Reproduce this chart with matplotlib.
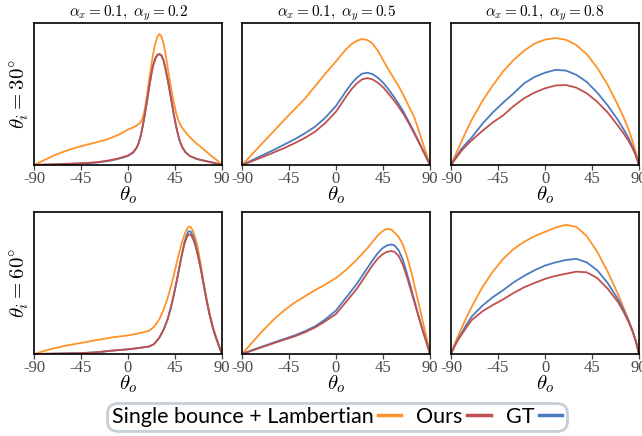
import matplotlib
matplotlib.use("Agg")
import matplotlib.pyplot as plt
from matplotlib.lines import Line2D

plt.rcParams['mathtext.fontset'] = 'cm'

# ---------------- data (normalised heights) ----------------
TITLES = [r"$\alpha_x = 0.1,\ \alpha_y = 0.2$",
          r"$\alpha_x = 0.1,\ \alpha_y = 0.5$",
          r"$\alpha_x = 0.1,\ \alpha_y = 0.8$"]
ROW_LABELS = [r"$\theta_i = 30^{\circ}$", r"$\theta_i = 60^{\circ}$"]
XTICKS = [-90, -45, 0, 45, 90]
XTICK_LABELS = ["-90", "-45", "0", "45", "90"]
SERIES_NAMES = ["Single bounce + Lambertian", "Ours", "GT"]

# panel (0,0): theta_i = 30, alpha_y = 0.2
p00_x = [-90, -80, -70, -60, -50, -40, -30, -20, -15, -10, -5, 0, 5, 8, 10, 12, 14, 16, 18, 20, 22, 24, 26, 28, 30,
         32, 34, 36, 38, 40, 42, 44, 46, 48, 50, 52, 55, 59, 65, 70, 78, 85, 90]
p00_lamb = [0, 0.035, 0.07, 0.098, 0.122, 0.142, 0.16, 0.18, 0.195, 0.21, 0.228, 0.25, 0.265, 0.277, 0.287, 0.30, 0.33, 0.39, 0.48, 0.59, 0.69, 0.78, 0.85, 0.90, 0.923,
            0.905, 0.855, 0.78, 0.685, 0.595, 0.51, 0.435, 0.37, 0.318, 0.285, 0.26, 0.232, 0.197, 0.155, 0.125, 0.075, 0.035, 0]
p00_ours = [0, 0.003, 0.005, 0.008, 0.011, 0.014, 0.02, 0.03, 0.037, 0.045, 0.055, 0.067, 0.09, 0.12, 0.15, 0.20, 0.27, 0.35, 0.44, 0.535, 0.625, 0.70, 0.748, 0.775, 0.782,
            0.772, 0.737, 0.675, 0.60, 0.52, 0.435, 0.35, 0.275, 0.21, 0.16, 0.125, 0.09, 0.064, 0.045, 0.035, 0.022, 0.01, 0]
p00_gt = [0, 0.002, 0.004, 0.006, 0.009, 0.012, 0.017, 0.027, 0.034, 0.042, 0.052, 0.064, 0.087, 0.118, 0.15, 0.20, 0.27, 0.35, 0.44, 0.535, 0.625, 0.70, 0.746, 0.773, 0.78,
          0.77, 0.735, 0.673, 0.60, 0.52, 0.435, 0.35, 0.275, 0.21, 0.16, 0.125, 0.09, 0.064, 0.045, 0.035, 0.022, 0.01, 0]

# panel (0,1): theta_i = 30, alpha_y = 0.5
p01_x = [-90, -80, -70, -60, -50, -40, -30, -20, -10, 0, 5, 10, 15, 20, 25, 30, 35, 40, 45, 50, 55, 60, 65, 70, 75, 80, 85, 90]
p01_lamb = [0, 0.078, 0.157, 0.235, 0.314, 0.39, 0.465, 0.555, 0.645, 0.73, 0.775, 0.818, 0.852, 0.875, 0.887, 0.88, 0.855, 0.805, 0.74, 0.675, 0.615, 0.555, 0.485, 0.41, 0.335, 0.225, 0.112, 0]
p01_ours = [0, 0.028, 0.057, 0.087, 0.118, 0.152, 0.19, 0.235, 0.298, 0.376, 0.43, 0.485, 0.535, 0.575, 0.603, 0.612, 0.603, 0.58, 0.548, 0.505, 0.46, 0.41, 0.355, 0.29, 0.22, 0.148, 0.074, 0]
p01_gt = [0, 0.035, 0.07, 0.105, 0.142, 0.18, 0.222, 0.27, 0.335, 0.416, 0.47, 0.525, 0.575, 0.615, 0.643, 0.65, 0.64, 0.615, 0.58, 0.535, 0.485, 0.43, 0.37, 0.30, 0.23, 0.155, 0.078, 0]

# panel (0,2): theta_i = 30, alpha_y = 0.8
p02_x = [-90, -87, -84, -80, -75, -70, -60, -50, -40, -30, -20, -10, 0, 10, 20, 30, 40, 50, 60, 70, 75, 80, 84, 87, 90]
p02_lamb = [0, 0.05, 0.10, 0.165, 0.245, 0.32, 0.45, 0.56, 0.66, 0.74, 0.805, 0.855, 0.883, 0.894, 0.882, 0.845, 0.78, 0.685, 0.565, 0.42, 0.34, 0.25, 0.165, 0.09, 0]
p02_ours = [0, 0.03, 0.06, 0.10, 0.14, 0.175, 0.24, 0.30, 0.35, 0.415, 0.47, 0.51, 0.54, 0.56, 0.563, 0.545, 0.505, 0.445, 0.37, 0.275, 0.225, 0.17, 0.115, 0.065, 0]
p02_gt = [0, 0.035, 0.07, 0.115, 0.155, 0.195, 0.29, 0.37, 0.44, 0.505, 0.575, 0.62, 0.65, 0.67, 0.665, 0.635, 0.585, 0.51, 0.42, 0.315, 0.255, 0.19, 0.125, 0.07, 0]

# panel (1,0): theta_i = 60, alpha_y = 0.2
p10_x = [-90, -75, -60, -45, -30, -15, 0, 10, 20, 25, 30, 34, 38, 42, 45, 48, 51, 54, 56, 58, 60, 62, 64, 66, 68, 70, 72, 75, 78, 81, 84, 87, 90]
p10_lamb = [0, 0.033, 0.058, 0.078, 0.098, 0.117, 0.131, 0.145, 0.163, 0.192, 0.245, 0.31, 0.395, 0.50, 0.59, 0.685, 0.77, 0.84, 0.875, 0.897, 0.895, 0.87, 0.83, 0.775, 0.70, 0.615, 0.52, 0.40, 0.29, 0.20, 0.125, 0.06, 0]
p10_ours = [0, 0.002, 0.004, 0.006, 0.012, 0.024, 0.033, 0.042, 0.052, 0.07, 0.115, 0.17, 0.245, 0.355, 0.455, 0.565, 0.68, 0.775, 0.815, 0.843, 0.84, 0.815, 0.775, 0.72, 0.655, 0.585, 0.505, 0.385, 0.28, 0.19, 0.12, 0.058, 0]
p10_gt = [0, 0.002, 0.004, 0.006, 0.012, 0.024, 0.033, 0.042, 0.052, 0.07, 0.115, 0.17, 0.245, 0.355, 0.455, 0.565, 0.68, 0.785, 0.835, 0.865, 0.862, 0.835, 0.79, 0.73, 0.663, 0.59, 0.51, 0.385, 0.28, 0.19, 0.12, 0.058, 0]

# panel (1,1): theta_i = 60, alpha_y = 0.5
p11_x = [-90, -80, -70, -60, -50, -40, -30, -20, -10, 0, 10, 20, 30, 35, 40, 45, 49, 53, 56, 60, 64, 68, 72, 76, 80, 84, 87, 90]
p11_lamb = [0, 0.083, 0.165, 0.24, 0.305, 0.36, 0.405, 0.45, 0.49, 0.535, 0.595, 0.665, 0.745, 0.79, 0.835, 0.868, 0.882, 0.876, 0.855, 0.825, 0.77, 0.685, 0.58, 0.455, 0.33, 0.20, 0.105, 0]
p11_ours = [0, 0.025, 0.05, 0.075, 0.10, 0.123, 0.152, 0.187, 0.232, 0.282, 0.37, 0.46, 0.57, 0.625, 0.672, 0.705, 0.72, 0.725, 0.72, 0.69, 0.63, 0.54, 0.44, 0.34, 0.24, 0.14, 0.072, 0]
p11_gt = [0, 0.028, 0.054, 0.08, 0.105, 0.13, 0.16, 0.195, 0.245, 0.306, 0.40, 0.495, 0.605, 0.66, 0.71, 0.748, 0.765, 0.771, 0.765, 0.73, 0.665, 0.565, 0.46, 0.35, 0.245, 0.145, 0.075, 0]

# panel (1,2): theta_i = 60, alpha_y = 0.8
p12_x = [-90, -87, -84, -80, -75, -70, -60, -50, -40, -30, -20, -10, 0, 10, 20, 30, 40, 50, 60, 70, 75, 80, 84, 87, 90]
p12_lamb = [0, 0.06, 0.115, 0.18, 0.26, 0.335, 0.47, 0.58, 0.67, 0.74, 0.79, 0.83, 0.86, 0.89, 0.91, 0.895, 0.83, 0.72, 0.58, 0.42, 0.33, 0.24, 0.16, 0.09, 0]
p12_ours = [0, 0.048, 0.09, 0.135, 0.19, 0.24, 0.30, 0.345, 0.385, 0.43, 0.47, 0.50, 0.529, 0.55, 0.565, 0.58, 0.575, 0.535, 0.46, 0.365, 0.30, 0.225, 0.155, 0.088, 0]
p12_gt = [0, 0.05, 0.095, 0.145, 0.21, 0.265, 0.34, 0.40, 0.45, 0.505, 0.55, 0.59, 0.623, 0.645, 0.662, 0.67, 0.645, 0.59, 0.50, 0.385, 0.315, 0.235, 0.16, 0.09, 0]

PANELS = [
    [(p00_x, p00_lamb, p00_ours, p00_gt), (p01_x, p01_lamb, p01_ours, p01_gt), (p02_x, p02_lamb, p02_ours, p02_gt)],
    [(p10_x, p10_lamb, p10_ours, p10_gt), (p11_x, p11_lamb, p11_ours, p11_gt), (p12_x, p12_lamb, p12_ours, p12_gt)],
]

COLORS = ["#ff9229", "#c0504d", "#4a7cbf"]

# ---------------- figure ----------------
W, H = 642, 436
fig = plt.figure(figsize=(W / 100, H / 100), dpi=100)

col_left = [34, 242, 451]
col_w = 188
row_top = [23, 212]
row_h = 142

for r in range(2):
    for c in range(3):
        ax = fig.add_axes([col_left[c] / W, 1 - (row_top[r] + row_h) / H, col_w / W, row_h / H])
        x, lamb, ours, gt = PANELS[r][c]
        ax.plot(x, lamb, color=COLORS[0], lw=1.3, solid_joinstyle='round')
        ax.plot(x, gt, color=COLORS[2], lw=1.3, solid_joinstyle='round')
        ax.plot(x, ours, color=COLORS[1], lw=1.3, solid_joinstyle='round')
        ax.set_xlim(-90, 90)
        ax.set_ylim(0, 1.0)
        ax.set_yticks([])
        ax.set_xticks(XTICKS)
        ax.set_xticklabels(XTICK_LABELS, fontfamily="Liberation Serif", fontsize=12, color="#4a4a4a")
        ax.tick_params(axis='x', length=3.5, width=0.9, color="#444444", pad=1.0)
        for s in ax.spines.values():
            s.set_linewidth(1.2)
            s.set_color("black")
        ax.set_xlabel(r"$\theta_o$", fontsize=15, labelpad=-2)
        if r == 0:
            ax.set_title(TITLES[c], fontsize=11, pad=4)
        if c == 0:
            ax.set_ylabel(ROW_LABELS[r], fontsize=15, labelpad=2)

handles = [Line2D([], [], color=col, lw=2.5) for col in COLORS]
leg = fig.legend(handles, SERIES_NAMES, loc='center', bbox_to_anchor=(337 / W, 1 - 417 / H),
                 ncol=3, frameon=True, markerfirst=False, fancybox=True,
                 prop={'family': 'Lato', 'size': 15.5}, handlelength=1.1, handletextpad=0.2,
                 columnspacing=0.7, borderpad=0.2, borderaxespad=0)
frame = leg.get_frame()
frame.set_edgecolor("#b9c4cc")
frame.set_linewidth(2.0)
frame.set_boxstyle("round,pad=0,rounding_size=0.5")

fig.savefig("out.png", dpi=100)
